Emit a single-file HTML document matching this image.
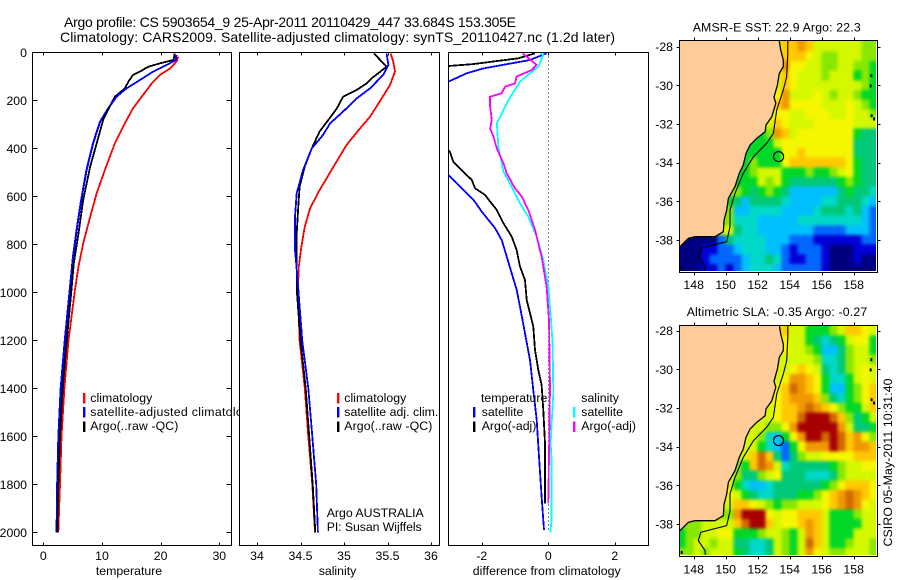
<!DOCTYPE html>
<html lang="en">
<head>
<meta charset="utf-8">
<title>Argo profile</title>
<style>
html,body{margin:0;padding:0;background:#fff;}
svg{display:block;}
text{font-family:"Liberation Sans",sans-serif;font-size:12.3px;fill:#000;}
.title{font-size:14px;}
.map-title{font-size:12.3px;}
</style>
</head>
<body>
<svg id="chart" xmlns="http://www.w3.org/2000/svg" width="900" height="580" viewBox="0 0 900 580">
  <defs>
    <clipPath id="clip-p1"><rect x="33" y="53" width="198" height="492"/></clipPath>
    <clipPath id="clip-p2"><rect x="240" y="53" width="199" height="492"/></clipPath>
    <clipPath id="clip-p3"><rect x="449" y="53" width="199" height="492"/></clipPath>
    <clipPath id="clip-legend1"><rect x="33" y="380" width="206" height="60"/></clipPath>
    <clipPath id="clip-m1"><rect x="680" y="41" width="196" height="230"/></clipPath>
    <clipPath id="clip-m2"><rect x="680" y="326" width="196" height="229"/></clipPath>
    <filter id="soften" x="-5%" y="-5%" width="110%" height="110%" color-interpolation-filters="sRGB"><feGaussianBlur stdDeviation="1.7"/></filter>
  </defs>

  <text class="title" x="64" y="27" textLength="452" lengthAdjust="spacing">Argo profile: CS 5903654_9 25-Apr-2011 20110429_447 33.684S 153.305E</text>
  <text class="title" x="60" y="42" textLength="555" lengthAdjust="spacing">Climatology: CARS2009. Satellite-adjusted climatology: synTS_20110427.nc (1.2d later)</text>

  <g id="plots"></g>

  <g clip-path="url(#clip-legend1)">
    <rect x="83" y="393" width="2.4" height="10.5" fill="#ff0000"/>
    <rect x="83" y="407" width="2.4" height="10.5" fill="#0000ff"/>
    <rect x="83" y="421.5" width="2.4" height="10.5" fill="#000000"/>
    <text x="90.3" y="402" textLength="62" lengthAdjust="spacing">climatology</text>
    <text x="90.3" y="416" textLength="166" lengthAdjust="spacing">satellite-adjusted climatology</text>
    <text x="90.3" y="430" textLength="88" lengthAdjust="spacing">Argo(..raw -QC)</text>
  </g>

  <g>
    <rect x="337" y="393" width="2.4" height="10.5" fill="#ff0000"/>
    <rect x="337" y="407" width="2.4" height="10.5" fill="#0000ff"/>
    <rect x="337" y="421.5" width="2.4" height="10.5" fill="#000000"/>
    <text x="344.3" y="402" textLength="62" lengthAdjust="spacing">climatology</text>
    <text x="344.3" y="416" textLength="94" lengthAdjust="spacing">satellite adj. clim.</text>
    <text x="344.3" y="430" textLength="88" lengthAdjust="spacing">Argo(..raw -QC)</text>
    <text x="326.7" y="517" textLength="97" lengthAdjust="spacing">Argo AUSTRALIA</text>
    <text x="326.7" y="531" textLength="95" lengthAdjust="spacing">PI: Susan Wijffels</text>
  </g>

  <g>
    <text x="481" y="402">temperature</text>
    <text x="481.7" y="416">satellite</text>
    <text x="481.7" y="430">Argo(-adj)</text>
    <rect x="473" y="407" width="2.4" height="10.5" fill="#0000ff"/>
    <rect x="473" y="421.5" width="2.4" height="10.5" fill="#000000"/>
    <text x="581.3" y="402">salinity</text>
    <text x="581.3" y="416">satellite</text>
    <text x="581.3" y="430">Argo(-adj)</text>
    <rect x="573" y="407" width="2.4" height="10.5" fill="#00ffff"/>
    <rect x="573" y="421.5" width="2.4" height="10.5" fill="#ff00ff"/>
  </g>

  <text x="129" y="575" text-anchor="middle">temperature</text>
  <text x="337.5" y="575" text-anchor="middle">salinity</text>
  <text x="546.7" y="575" text-anchor="middle" textLength="148" lengthAdjust="spacing">difference from climatology</text>

  <g id="maps"></g>

  <text class="map-title" x="692.7" y="31.5" textLength="168" lengthAdjust="spacing">AMSR-E SST: 22.9 Argo: 22.3</text>
  <text class="map-title" x="686.7" y="316" textLength="180.5" lengthAdjust="spacing">Altimetric SLA: -0.35 Argo: -0.27</text>
  <text transform="translate(892,546.5) rotate(-90)" textLength="168" lengthAdjust="spacing">CSIRO 05-May-2011 10:31:40</text>
</svg>

<script>
// ---- axis tick data ----
const depthTicks = [0, 200, 400, 600, 800, 1000, 1200, 1400, 1600, 1800, 2000];
const tempTicks = [0, 10, 20, 30];
const salTicks = [34, 34.5, 35, 35.5, 36];
const diffTicks = [-2, 0, 2];
const lonTicks = [148, 150, 152, 154, 156, 158];
const latTicks = [-28, -30, -32, -34, -36, -38];

// ---- temperature panel ----
const tempClimDepth = [18, 39, 67, 94, 129, 178, 233, 296, 379, 490, 587, 685, 796, 893, 988, 1200, 1400, 1600, 1800, 2000];
const tempClim = [23.0, 22.7, 21.6, 19.9, 18.5, 17.0, 15.3, 13.9, 12.2, 10.5, 9.1, 8.0, 6.8, 6.0, 5.4, 4.3, 3.6, 3.1, 2.85, 2.55];
const tempSatDepth = [11, 32, 53, 80, 115, 150, 185, 233, 289, 379, 490, 615, 726, 851, 988, 1200, 1400, 1600, 1800, 2000];
const tempSat = [22.7, 22.6, 21.0, 18.75, 16.5, 14.2, 12.5, 11.1, 9.7, 8.5, 7.4, 6.5, 5.8, 5.1, 4.55, 3.7, 3.0, 2.6, 2.4, 2.3];
const tempArgoDepth = [5, 32, 46, 60, 80, 94, 122, 150, 185, 212, 282, 379, 476, 615, 754, 879, 988, 1200, 1400, 1600, 1800, 2000];
const tempArgo = [22.4, 22.2, 19.9, 17.9, 16.5, 15.3, 14.5, 13.9, 12.2, 11.6, 10.2, 9.1, 8.0, 6.8, 6.0, 5.2, 4.8, 4.0, 3.3, 2.85, 2.55, 2.4];

// ---- salinity panel ----
const salClimDepth = [5, 39, 80, 136, 205, 268, 310, 386, 476, 574, 650, 726, 810, 893, 988, 1200, 1400, 1600, 1800, 2000];
const salClim = [35.536, 35.567, 35.586, 35.53, 35.41, 35.30, 35.2, 35.03, 34.88, 34.72, 34.61, 34.55, 34.51, 34.48, 34.47, 34.49, 34.55, 34.59, 34.636, 34.667];
const salSatDepth = [5, 53, 94, 150, 192, 247, 296, 344, 400, 490, 587, 685, 824, 879, 988, 1200, 1400, 1600, 1800, 2000];
const salSat = [35.49, 35.51, 35.45, 35.3, 35.146, 34.99, 34.84, 34.76, 34.63, 34.53, 34.456, 34.437, 34.437, 34.45, 34.475, 34.52, 34.59, 34.636, 34.68, 34.70];
const salArgoDepth = [5, 60, 108, 129, 157, 185, 233, 282, 330, 400, 476, 560, 643, 754, 988, 1200, 1400, 1600, 1800, 2000];
const salArgo = [35.345, 35.49, 35.32, 35.26, 35.146, 34.99, 34.92, 34.82, 34.72, 34.63, 34.55, 34.49, 34.475, 34.456, 34.456, 34.5, 34.56, 34.6, 34.64, 34.67];

// ---- difference panel ----
const diffTempSatDepth = [4, 32, 67, 87, 122, 200, 300, 400, 511, 574, 615, 664, 733, 782, 851, 921, 990, 1060, 1171, 1282, 1407, 1532, 1685, 1851, 1990];
const diffTempSat = [-0.05, -0.55, -1.95, -2.45, -3.0, -4.5, -4.5, -3.7, -3.0, -2.55, -2.25, -2.0, -1.6, -1.4, -1.25, -1.1, -0.95, -0.85, -0.7, -0.55, -0.45, -0.35, -0.28, -0.2, -0.13];
const diffTempArgoDepth = [4, 25, 49, 57, 100, 200, 300, 400, 414, 456, 497, 532, 567, 594, 622, 657, 712, 768, 824, 893, 949, 1032, 1087, 1143, 1240, 1324, 1386, 1490, 1629, 1879];
const diffTempArgo = [-0.4, -0.9, -2.26, -3.0, -3.5, -4.4, -3.7, -3.1, -2.96, -2.86, -2.56, -2.3, -2.2, -1.9, -1.75, -1.55, -1.35, -1.1, -0.95, -0.85, -0.7, -0.65, -0.55, -0.45, -0.4, -0.3, -0.2, -0.15, -0.1, -0.1];
const diffSalSatDepth = [4, 11, 60, 122, 199, 296, 393, 462, 497, 560, 629, 685, 768, 865, 976, 1115, 1212, 1421, 1629, 1699, 1949, 2000];
const diffSalSat = [-0.25, -0.15, -0.3, -0.85, -1.2, -1.55, -1.5, -1.4, -1.35, -1.1, -0.85, -0.6, -0.35, -0.15, 0, 0.08, 0.13, 0.15, 0.07, 0.1, 0.1, 0.06];
const diffSalArgoDepth = [4, 53, 74, 101, 129, 143, 171, 185, 226, 282, 317, 351, 400, 462, 504, 567, 601, 657, 740, 851, 976, 1115, 1393, 1879];
const diffSalArgo = [-0.77, -0.35, -0.5, -0.95, -1.0, -1.3, -1.4, -1.75, -1.75, -1.7, -1.75, -1.65, -1.55, -1.35, -1.25, -1.0, -0.8, -0.6, -0.4, -0.2, -0.05, 0.02, 0.05, 0.0];

// ---- map fields: one hex colour-level per 0.5 degree cell, north to south, west to east ----
const sstRows = [
"8888888888888aaba88888877",
"8888888888888aaa987788877",
"8888888888888b99887788776",
"8888888888888a98887888676",
"8888888888888a98888888876",
"8888888888889b88898788766",
"888888888888ab99998889876",
"8888888888889988999889887",
"777777777778a988899999888",
"666666666667ba89999999655",
"6666666666668999999999555",
"666666666666699a999999555",
"66666666676669aaaaaaa9655",
"6666666667888666766789655",
"6666666666878655555567655",
"6666667765676533333356554",
"6666666535555433334455543",
"7777777334444333345554532",
"7777777444333334444444432",
"8888888544333333322223332",
"0000025444433322211111122",
"0001122344433212221000111",
"0001222234454211221000100",
"0001121234443222221000000"
];
const slaRows = [
"8888888888888a8866678aa98",
"8888888888888988654568996",
"8888888888888988763357886",
"8888888888888888874457887",
"888888888888889a985457898",
"88888888888889bba96446898",
"8888888888889acba9633679a",
"8888888888889abbba754679a",
"8888888888889aabcba97668a",
"8888888888889aacdddca7568",
"88888888888779bdddddb8556",
"888888888874369bddcdcab97",
"8888888888643269bbbdcabba",
"888888888aca5257889999aaa",
"777777776acb8455555678899",
"8888888755789555444578888",
"888888864334555555679aaa9",
"9999999865445556679abcba9",
"8888888aa9876778889abcb98",
"7777777bddd9899aaa8666788",
"7778888acdda899aba8666688",
"6778899666788768ba8666888",
"6788788554458768ca8667887",
"7787888654458768b98778887"
];
const coastLon = [153.35, 153.44, 153.6, 153.6, 153.35, 153.23, 153.02, 153.13, 152.88, 152.52, 152.46, 151.94, 151.52, 151.27, 151.1, 150.85, 150.58, 150.17, 150.06, 149.9, 149.85, 149.33, 148.08, 147.67, 147.1];
const coastLat = [-27.7, -28.17, -28.7, -29.03, -29.38, -29.98, -30.62, -30.93, -31.62, -32.05, -32.4, -32.74, -33.09, -33.52, -34.12, -34.55, -35.24, -35.84, -36.45, -36.97, -37.57, -37.83, -37.83, -37.91, -38.38];
const shelfLon = [153.88, 153.88, 153.81, 153.6, 153.19, 152.98, 152.56, 151.73, 151.1, 150.58, 150.27, 150.27, 150.06, 149.23, 148.44, 148.29, 148.71, 148.71];
const shelfLat = [-27.7, -28.34, -29.55, -30.24, -31.28, -32.48, -33.0, -33.69, -34.55, -35.59, -36.45, -37.31, -38.09, -38.26, -38.43, -38.86, -39.38, -39.6];
const islandLon = [159.1, 159.06, 159.12, 159.27, 147.25];
const islandLat = [-29.5, -30.03, -31.57, -31.74, -39.47];
const floatLon = 153.305;
const floatLat = -33.684;

// ---- presentation ----
const levelColors = ["#000080","#0000d8","#0068ff","#00c0ff","#00d8c8","#00c878","#00d828","#88e800","#d4f800","#f6f600","#ffc800","#f09800","#d06a00","#a80000"];
const LAND = "#ffcc99";
const NS = "http://www.w3.org/2000/svg";
const plots = document.getElementById("plots");
const maps = document.getElementById("maps");

function svgEl(tag, attrs, parent) {
  const el = document.createElementNS(NS, tag);
  for (const k in attrs) el.setAttribute(k, attrs[k]);
  parent.appendChild(el);
  return el;
}
const depthY = d => 52.3 + 0.24 * d;
const tempX = v => 43.3 + 5.867 * v;
const salX = v => 257 + 87 * (v - 34);
const diffX = v => 548.3 + 33.25 * v;

function drawPanel(name, box, xFn, xTicks, yTicksOn) {
  const frame = svgEl("rect", {x: box.x + .5, y: 52.5, width: box.w, height: 493, fill: "none", stroke: "#000", "stroke-width": 1, "shape-rendering": "crispEdges"}, plots);
  
  
  xTicks.forEach(t => {
    const px = Math.round(xFn(t)) + .5;
    [[52.5, 55.5], [542.5, 545.5]].forEach(seg => {
      const tick = svgEl("line", {x1: px, x2: px, y1: seg[0], y2: seg[1], stroke: "#000", "shape-rendering": "crispEdges"}, plots);
      
      
    });
    const label = svgEl("text", {x: xFn(t), y: 560, "text-anchor": "middle"}, plots);
    label.textContent = String(t);
    
    
  });
  if (yTicksOn) {
    depthTicks.forEach(d => {
      const py = Math.round(depthY(d)) + .5;
      [[box.x + .5, box.x + 5.5], [box.x + box.w - 4.5, box.x + box.w + .5]].forEach(seg => {
        const tick = svgEl("line", {x1: seg[0], x2: seg[1], y1: py, y2: py, stroke: "#000", "shape-rendering": "crispEdges"}, plots);
        
        
      });
      const label = svgEl("text", {x: 27, y: depthY(d) + 4.5, "text-anchor": "end"}, plots);
      label.textContent = String(d);
      
      
    });
  }
}

function drawProfile(name, depths, values, xFn, color, clip, width) {
  const pts = depths.map((d, i) => xFn(values[i]).toFixed(1) + "," + depthY(d).toFixed(1)).join(" ");
  const line = svgEl("polyline", {points: pts, fill: "none", stroke: color, "stroke-width": width, "shape-rendering": "crispEdges", "clip-path": "url(#" + clip + ")"}, plots);
  
  
}

drawPanel("temperature-panel", {x: 32, w: 199}, tempX, tempTicks, true);
drawPanel("salinity-panel", {x: 239, w: 200}, salX, salTicks, false);
drawPanel("difference-panel", {x: 448, w: 200}, diffX, diffTicks, false);

const zeroLine = svgEl("line", {x1: Math.round(diffX(0)) + .5, x2: Math.round(diffX(0)) + .5, y1: depthY(0), y2: depthY(2000), stroke: "#000", "stroke-dasharray": "1 3", "shape-rendering": "crispEdges"}, plots);



drawProfile("temperature-climatology-line", tempClimDepth, tempClim, tempX, "#ff0000", "clip-p1", 1.8);
drawProfile("temperature-satellite-line", tempSatDepth, tempSat, tempX, "#0000ff", "clip-p1", 1.8);
drawProfile("temperature-argo-line", tempArgoDepth, tempArgo, tempX, "#000000", "clip-p1", 1.8);
drawProfile("temperature-satellite-overlay-line", tempSatDepth, tempSat.map(v => v - .12), tempX, "#0000ff", "clip-p1", 1);

drawProfile("salinity-climatology-line", salClimDepth, salClim, salX, "#ff0000", "clip-p2", 1.8);
drawProfile("salinity-argo-line", salArgoDepth, salArgo, salX, "#000000", "clip-p2", 1.8);
drawProfile("salinity-satellite-line", salSatDepth, salSat, salX, "#0000ff", "clip-p2", 1.8);

drawProfile("diff-temperature-satellite-line", diffTempSatDepth, diffTempSat, diffX, "#0000ff", "clip-p3", 1.8);
drawProfile("diff-temperature-argo-line", diffTempArgoDepth, diffTempArgo, diffX, "#000000", "clip-p3", 1.8);
drawProfile("diff-salinity-satellite-line", diffSalSatDepth, diffSalSat, diffX, "#00ffff", "clip-p3", 1.8);
drawProfile("diff-salinity-argo-line", diffSalArgoDepth, diffSalArgo, diffX, "#ff00ff", "clip-p3", 1.8);

// ---- maps ----
const lonX = lon => 693.7 + 16 * (lon - 148);

function drawMap(name, rows, frameTop, frameBottom, lat28Y, clip, lonLabelGap) {
  const latY = lat => lat28Y + 19.33 * (-28 - lat);
  const g = svgEl("g", {"clip-path": "url(#" + clip + ")"}, maps);
  
  
  const field = svgEl("g", {filter: "url(#soften)"}, g);
  
  
  rows.forEach((row, j) => {
    const top = latY(-27.74 - 0.5 * j) - (j === 0 ? 12 : 0);
    const bottom = latY(-27.74 - 0.5 * (j + 1)) + (j === rows.length - 1 ? 12 : 0);
    [...row].forEach((ch, i) => {
      const left = lonX(147 + 0.5 * i) - (i === 0 ? 12 : 0);
      const right = lonX(147 + 0.5 * (i + 1)) + (i === row.length - 1 ? 12 : 0);
      const cell = svgEl("rect", {x: left, y: top, width: right - left + .1, height: bottom - top + .1, fill: levelColors[parseInt(ch, 16)], "shape-rendering": "crispEdges"}, field);
      
      
    });
  });
  const landPts = coastLon.map((lon, i) => lonX(lon).toFixed(1) + "," + latY(coastLat[i]).toFixed(1));
  landPts.push(lonX(147).toFixed(1) + "," + latY(-38.38).toFixed(1));
  landPts.push(lonX(147).toFixed(1) + "," + latY(-27.7).toFixed(1));
  const land = svgEl("polygon", {points: landPts.join(" "), fill: LAND, stroke: "none"}, g);
  
  
  const coast = svgEl("polyline", {points: coastLon.map((lon, i) => lonX(lon).toFixed(1) + "," + latY(coastLat[i]).toFixed(1)).join(" "), fill: "none", stroke: "#000", "stroke-width": 1.3}, g);
  
  
  const shelf = svgEl("polyline", {points: shelfLon.map((lon, i) => lonX(lon).toFixed(1) + "," + latY(shelfLat[i]).toFixed(1)).join(" "), fill: "none", stroke: "#000", "stroke-width": 1.1}, g);
  
  
  islandLon.forEach((lon, i) => {
    const isle = svgEl("rect", {x: lonX(lon) - 1, y: latY(islandLat[i]) - 1.5, width: 2, height: 3, fill: "#000"}, g);
    
    
  });
  const marker = svgEl("circle", {cx: lonX(floatLon), cy: latY(floatLat), r: 5, fill: "none", stroke: "#000", "stroke-width": 1.2}, g);
  
  

  const frame = svgEl("rect", {x: 679.5, y: frameTop + .5, width: 198, height: frameBottom - frameTop, fill: "none", stroke: "#000", "shape-rendering": "crispEdges"}, maps);
  
  
  lonTicks.forEach(t => {
    const px = Math.round(lonX(t)) + .5;
    [[frameTop + .5, frameTop - 2.5], [frameBottom + .5, frameBottom + 3.5]].forEach(seg => {
      const tick = svgEl("line", {x1: px, x2: px, y1: seg[0], y2: seg[1], stroke: "#000", "shape-rendering": "crispEdges"}, maps);
      
      
    });
    const label = svgEl("text", {x: lonX(t), y: frameBottom + lonLabelGap, "text-anchor": "middle"}, maps);
    label.textContent = String(t);
    
    
  });
  latTicks.forEach(t => {
    const py = Math.round(latY(t)) + .5;
    [[679.5, 676.5], [877.5, 880.5]].forEach(seg => {
      const tick = svgEl("line", {x1: seg[0], x2: seg[1], y1: py, y2: py, stroke: "#000", "shape-rendering": "crispEdges"}, maps);
      
      
    });
    const label = svgEl("text", {x: 673, y: latY(t) + 4.5, "text-anchor": "end"}, maps);
    label.textContent = String(t);
    
    
  });
}

drawMap("sst-map", sstRows, 40, 272, 46.7, "clip-m1", 17);
drawMap("sla-map", slaRows, 325, 556, 330.7, "clip-m2", 17.5);
</script>
</body>
</html>
